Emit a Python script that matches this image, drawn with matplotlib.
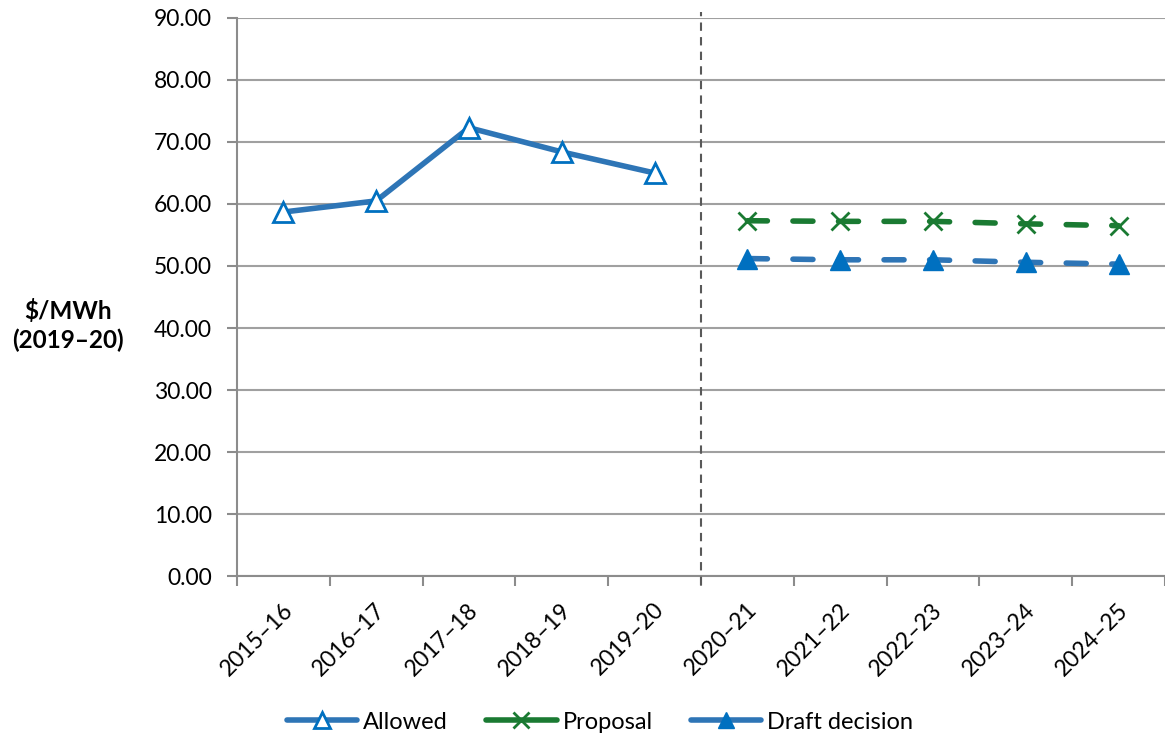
import numpy as np
import matplotlib.pyplot as plt
import matplotlib.transforms as mtrans

categories = ['2015–16', '2016–17', '2017–18', '2018–19', '2019–20',
              '2020–21', '2021–22', '2022–23', '2023–24', '2024–25']
allowed = [58.7, 60.5, 72.3, 68.4, 65.0]
proposal = [57.3, 57.2, 57.2, 56.8, 56.5]
draft = [51.2, 51.0, 51.0, 50.6, 50.3]

plt.rcParams['font.family'] = ['Lato', 'DejaVu Sans']

blue = '#2E75B6'
mblue = '#0070C0'
green = '#1A7A32'

fig = plt.figure(figsize=(11.65, 7.4), dpi=100)
ax = fig.add_axes([0.2034, 0.2216, 0.7966, 0.7541])

x = np.arange(len(categories))
ax.plot(x[:5], allowed, color=blue, lw=4, marker='^', ms=15,
        mfc='white', mec=mblue, mew=2, label='Allowed', zorder=4,
        solid_capstyle='round')
ax.plot(x[5:], proposal, color=green, lw=4, ls=(0, (3.6, 4.6)), marker='x',
        ms=13, mec=green, mew=2, label='Proposal', zorder=4,
        dash_capstyle='round')
ax.plot(x[5:], draft, color=blue, lw=4, ls=(0, (3.6, 4.6)), marker='^',
        ms=15, mfc=mblue, mec=mblue, label='Draft decision', zorder=4,
        dash_capstyle='round')

# divider between actuals and forecast
ax.axvline(4.5, ymin=-0.016, ymax=1.01, color='#595959', ls=(0, (4, 3)),
           lw=1.5, clip_on=False, zorder=3)

ax.set_xlim(-0.5, len(categories) - 0.5)
ax.set_ylim(0, 90)
ax.set_yticks(np.arange(0, 91, 10))
ax.set_yticklabels(['%.2f' % v for v in np.arange(0, 91, 10)])
ax.set_xticks(x)
ax.set_xticklabels(categories, rotation=45, ha='right', va='center',
                   rotation_mode='anchor')
ax.set_xticks(np.arange(-0.5, len(categories), 1), minor=True)
ax.tick_params(axis='x', which='major', length=0, pad=22, labelsize=16.5)
ax.tick_params(axis='x', which='minor', length=7, width=1.5, color='#8C8C8C')
ax.tick_params(axis='y', length=7, width=1.5, color='#8C8C8C', labelsize=16.5,
               pad=11)
shift = mtrans.ScaledTranslation(6 / 100, 0, fig.dpi_scale_trans)
for lab in ax.get_xticklabels():
    lab.set_transform(lab.get_transform() + shift)

ax.grid(True, axis='y', color='#A0A0A0', lw=1.5)
ax.set_axisbelow(True)
for s in ['top', 'right']:
    ax.spines[s].set_visible(False)
for s in ['left', 'bottom']:
    ax.spines[s].set_color('#8C8C8C')
    ax.spines[s].set_linewidth(1.5)

fig.text(0.058, 0.56, '$/MWh\n(2019–20)', ha='center', va='center',
         fontsize=17.5, fontweight='bold', linespacing=1.25)

leg = fig.legend(loc='center', bbox_to_anchor=(0.515, 0.024), ncol=3,
                 frameon=False, fontsize=17, handlelength=3.0,
                 columnspacing=1.6, handletextpad=0.25)
for h in leg.legend_handles:
    h.set_markersize(11)
    h.set_linestyle('-')
    h.set_solid_capstyle('round')

fig.savefig('out.png', dpi=100)
